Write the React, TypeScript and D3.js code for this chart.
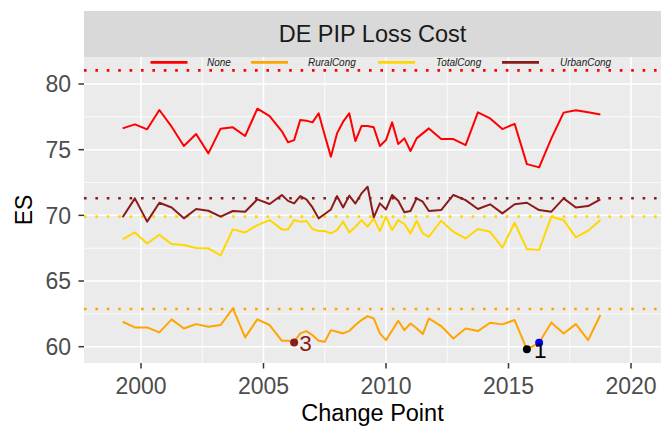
import React from "react";
import * as d3 from "d3";

const W = 661;
const H = 426;

const changeYears = [1999.25, 1999.75, 2000.25, 2000.75, 2001.25, 2001.75, 2002.25, 2002.75, 2003.25, 2003.75, 2004.25, 2004.75, 2005.25, 2005.75, 2006.0, 2006.25, 2006.5, 2006.75, 2007.0, 2007.25, 2007.5, 2007.75, 2008.0, 2008.25, 2008.5, 2008.75, 2009.0, 2009.25, 2009.5, 2009.75, 2010.0, 2010.25, 2010.5, 2010.75, 2011.0, 2011.25, 2011.5, 2011.75, 2012.25, 2012.75, 2013.25, 2013.75, 2014.25, 2014.75, 2015.25, 2015.75, 2016.25, 2016.75, 2017.25, 2017.75, 2018.25, 2018.75];

const noneES = [76.62, 76.93, 76.55, 78.02, 76.75, 75.28, 76.19, 74.72, 76.6, 76.7, 76.04, 78.12, 77.56, 76.4, 75.56, 75.73, 77.26, 77.21, 77.08, 77.77, 76.1, 74.47, 76.24, 77.13, 77.77, 75.66, 76.8, 76.8, 76.7, 75.28, 75.73, 77.08, 75.43, 75.86, 74.9, 75.86, 76.24, 76.62, 75.81, 75.81, 75.35, 77.84, 77.38, 76.57, 76.97, 73.9, 73.65, 75.86, 77.82, 78.0, 77.85, 77.67];
const ruralES = [61.9, 61.47, 61.47, 61.09, 62.08, 61.39, 61.72, 61.52, 61.65, 62.92, 60.71, 62.08, 61.65, 60.45, 60.45, 60.37, 61.01, 61.19, 60.88, 60.45, 60.37, 61.26, 61.14, 61.01, 61.2, 61.65, 62.03, 62.33, 62.15, 61.01, 60.5, 61.24, 61.97, 61.26, 61.77, 61.4, 60.96, 62.15, 61.57, 60.63, 61.39, 61.19, 61.82, 61.7, 62.03, 59.8, 60.3, 61.85, 61.01, 61.72, 60.5, 62.41];
const totalES = [68.17, 68.7, 67.86, 68.52, 67.81, 67.74, 67.51, 67.49, 66.95, 68.93, 68.7, 69.26, 69.64, 68.93, 68.93, 69.64, 69.52, 69.57, 68.96, 68.8, 68.8, 68.63, 68.88, 69.52, 68.7, 69.13, 69.64, 69.13, 69.77, 68.8, 69.9, 68.88, 69.64, 69.34, 68.63, 69.59, 68.63, 68.37, 69.59, 68.75, 68.24, 68.96, 68.75, 67.54, 69.44, 67.43, 67.36, 69.9, 69.64, 68.32, 68.83, 69.64];
const urbanES = [69.85, 71.29, 69.52, 70.96, 70.6, 69.77, 70.48, 70.35, 69.9, 70.33, 70.28, 71.22, 70.86, 71.55, 71.1, 70.91, 71.47, 71.22, 70.6, 69.77, 70.1, 70.45, 71.47, 70.6, 71.5, 70.9, 71.67, 72.18, 69.85, 70.91, 70.45, 71.55, 71.11, 70.23, 70.33, 71.29, 71.04, 70.33, 70.4, 71.55, 71.16, 70.48, 70.84, 70.15, 70.84, 70.96, 70.4, 70.28, 71.29, 70.6, 70.71, 71.22];

const seriesNames = ["None", "RuralCong", "TotalCong", "UrbanCong"];
const seriesColors = ["#FF0000", "#FFA500", "#FFD700", "#8B1A1A"];
const seriesValues = [noneES, ruralES, totalES, urbanES];
const thresholdValues = [81.04, 62.87, 69.9, 71.3];

const markYears = [2006.25, 2015.75, 2016.25];
const markValues = [60.32, 59.8, 60.3];
const markColors = ["#8B1A1A", "#000000", "#0000FF"];

const labelTexts = ["3", "1"];
const labelYears = [2006.25, 2015.75];
const labelValues = [60.32, 59.8];
const labelColors = ["#8B1A1A", "#000000"];

const xTicks = [2000, 2005, 2010, 2015, 2020];
const xMinor = [1997.5, 2002.5, 2007.5, 2012.5, 2017.5];
const yTicks = [60, 65, 70, 75, 80];
const yMinor = [57.5, 62.5, 67.5, 72.5, 77.5];

const panel = { left: 84, right: 661, top: 57, bottom: 363 };

export default function App() {
  const x = d3.scaleLinear().domain([2000, 2020]).range([141, 631]);
  const y = d3.scaleLinear().domain([60, 80]).range([346.7, 84]);
  const line = d3
    .line<[number, number]>()
    .x((d) => x(d[0]))
    .y((d) => y(d[1]));

  const font = "'Liberation Sans', Arial, Helvetica, sans-serif";
  const legendKeyX = [150.5, 251, 378, 502];
  const legendLabelX = [207, 308, 436, 560];

  return (
    <svg width={W} height={H} style={{ position: "absolute", left: 0, top: 0, display: "block" }} fontFamily={font}>
      <defs>
        <clipPath id="pclip">
          <rect x={panel.left} y={panel.top} width={panel.right - panel.left} height={panel.bottom - panel.top} />
        </clipPath>
      </defs>
      <rect x={0} y={0} width={W} height={H} fill="#FFFFFF" />
      {/* strip */}
      <rect x={panel.left} y={11} width={panel.right - panel.left} height={46} fill="#D9D9D9" />
      <text x={(panel.left + panel.right) / 2} y={42} textAnchor="middle" fontSize={23.5} fill="#1A1A1A">
        DE PIP Loss Cost
      </text>
      {/* panel */}
      <rect x={panel.left} y={panel.top} width={panel.right - panel.left} height={panel.bottom - panel.top} fill="#EBEBEB" />
      <g clipPath="url(#pclip)">
        {yMinor.map((v) => (
          <line key={"ym" + v} x1={panel.left} x2={panel.right} y1={y(v)} y2={y(v)} stroke="#FFFFFF" strokeWidth={0.8} />
        ))}
        {xMinor.map((v) => (
          <line key={"xm" + v} x1={x(v)} x2={x(v)} y1={panel.top} y2={panel.bottom} stroke="#FFFFFF" strokeWidth={0.8} />
        ))}
        {yTicks.map((v) => (
          <line key={"yM" + v} x1={panel.left} x2={panel.right} y1={y(v)} y2={y(v)} stroke="#FFFFFF" strokeWidth={1.5} />
        ))}
        {xTicks.map((v) => (
          <line key={"xM" + v} x1={x(v)} x2={x(v)} y1={panel.top} y2={panel.bottom} stroke="#FFFFFF" strokeWidth={1.5} />
        ))}
        {thresholdValues.map((v, i) => (
          <line
            key={"th" + i}
            x1={panel.left}
            x2={panel.right}
            y1={y(v)}
            y2={y(v)}
            stroke={seriesColors[i]}
            strokeWidth={2.6}
            strokeDasharray="2.6 8.8"
          />
        ))}
        {seriesValues.map((vals, i) => (
          <path
            key={"s" + i}
            d={line(changeYears.map((yr, j) => [yr, vals[j]]) as [number, number][]) || ""}
            fill="none"
            stroke={seriesColors[i]}
            strokeWidth={2}
            strokeLinejoin="round"
          />
        ))}
        {markYears.map((yr, i) => (
          <circle key={"m" + i} cx={x(yr)} cy={y(markValues[i])} r={4} fill={markColors[i]} />
        ))}
        {labelTexts.map((t, i) => (
          <text
            key={"l" + i}
            x={x(labelYears[i]) + (i === 0 ? 5 : 7)}
            y={y(labelValues[i]) + (i === 0 ? 8.5 : 9)}
            fontSize={22.5}
            fill={labelColors[i]}
          >
            {t}
          </text>
        ))}
        {/* legend */}
        {seriesNames.map((n, i) => (
          <g key={"lg" + i}>
            <line x1={legendKeyX[i]} x2={legendKeyX[i] + 37} y1={62.3} y2={62.3} stroke={seriesColors[i]} strokeWidth={2.7} />
            <text x={legendLabelX[i]} y={62.3} dy="0.35em" fontSize={10} fontStyle="italic" fill="#1A1A1A">
              {n}
            </text>
          </g>
        ))}
      </g>
      {/* axes ticks */}
      {yTicks.map((v) => (
        <g key={"yt" + v}>
          <line x1={78.5} x2={84} y1={y(v)} y2={y(v)} stroke="#333333" strokeWidth={1.5} />
          <text x={71} y={y(v)} dy="0.36em" textAnchor="end" fontSize={23} fill="#4D4D4D">
            {v}
          </text>
        </g>
      ))}
      {xTicks.map((v) => (
        <g key={"xt" + v}>
          <line x1={x(v)} x2={x(v)} y1={363} y2={368.5} stroke="#333333" strokeWidth={1.5} />
          <text x={x(v)} y={394} textAnchor="middle" fontSize={23} fill="#4D4D4D">
            {v}
          </text>
        </g>
      ))}
      <text x={(panel.left + panel.right) / 2} y={421} textAnchor="middle" fontSize={23.5} fill="#000000">
        Change Point
      </text>
      <text transform={`translate(32, ${(panel.top + panel.bottom) / 2}) rotate(-90)`} textAnchor="middle" fontSize={23} fill="#000000">
        ES
      </text>
    </svg>
  );
}
